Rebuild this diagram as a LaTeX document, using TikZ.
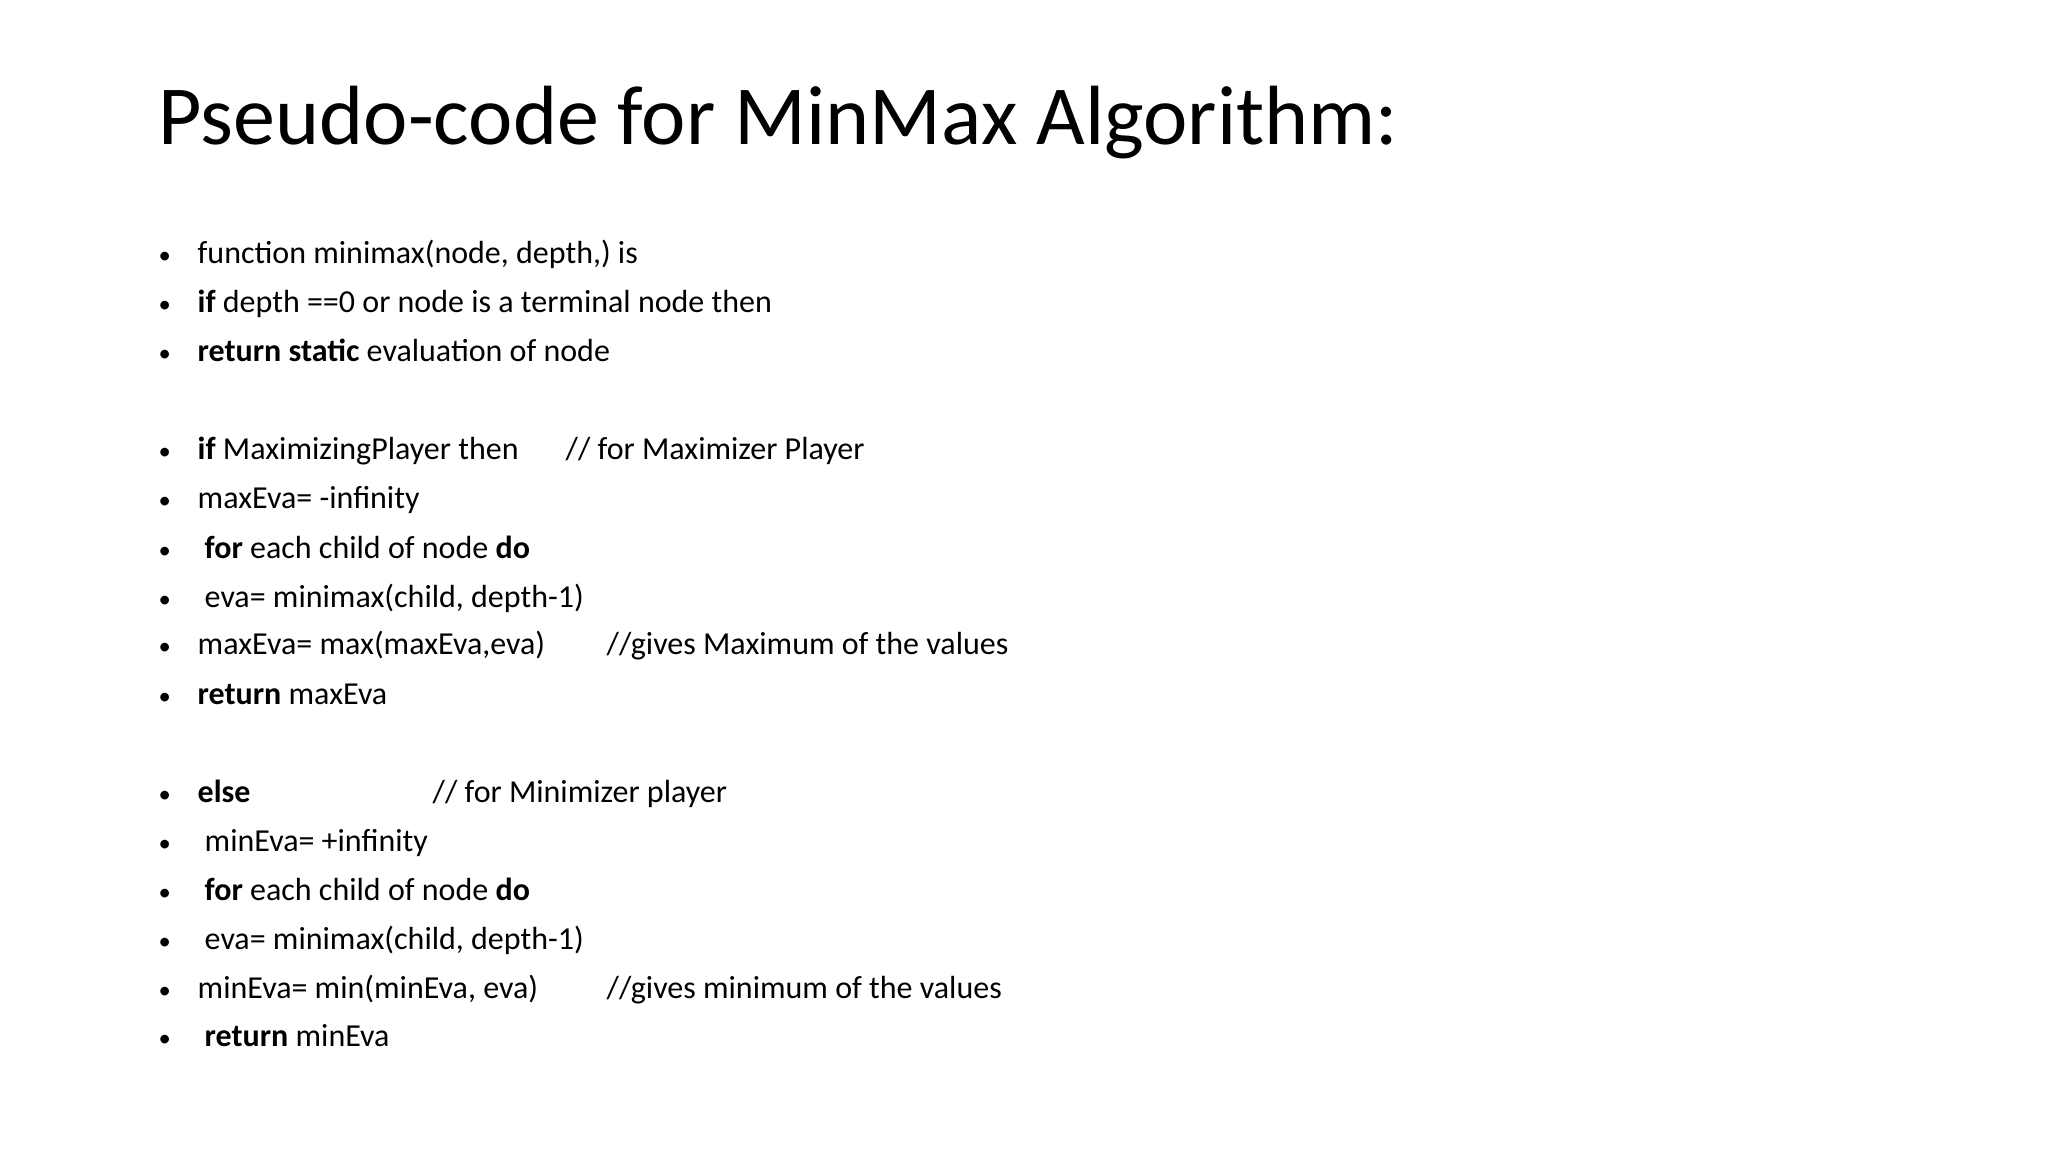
\documentclass[tikz,border=0pt]{standalone}
\usepackage{fontspec}
\setmainfont{Carlito}
\begin{document}
\begin{tikzpicture}[x=0.01cm,y=-0.01cm,
  ln/.style={anchor=base west,inner sep=0pt,font=\fontsize{9.1pt}{11pt}\selectfont},
  bul/.style={anchor=base west,inner sep=0pt,font=\fontsize{7pt}{9pt}\selectfont}]
\useasboundingbox (0,0) rectangle (2048,1152);
\node[anchor=base west,inner sep=0pt,font=\fontsize{23.9pt}{28pt}\selectfont] (title) at (158,145) {Pseudo-code for MinMax Algorithm:};
\foreach \y/\x/\t [count=\i] in {
 264/197/{function minimax(node, depth,) is},
 313/197/{\textbf{if} depth ==0 or node is a terminal node then},
 362/197/{\textbf{return static} evaluation of node},
 460/197/{\textbf{if} MaximizingPlayer then},
 509/197/{maxEva= -infinity},
 558/204/{\textbf{for} each child of node \textbf{do}},
 607/204/{eva= minimax(child, depth-1)},
 655/197/{maxEva= max(maxEva,eva)},
 704/197/{\textbf{return} maxEva},
 802/197/{\textbf{else}},
 851/204/{minEva= +infinity},
 900/204/{\textbf{for} each child of node \textbf{do}},
 949/204/{eva= minimax(child, depth-1)},
 998/197/{minEva= min(minEva, eva)},
 1046/204/{\textbf{return} minEva}}{
  \node[bul] (b\i) at (158,\y) {•};
  \node[ln] (l\i) at (\x,\y) {\t};
}
\node[ln] (c1) at (565,460) {// for Maximizer Player};
\node[ln] (c2) at (606,655) {//gives Maximum of the values};
\node[ln] (c3) at (432,802) {// for Minimizer player};
\node[ln] (c4) at (606,998) {//gives minimum of the values};
\end{tikzpicture}
\end{document}
